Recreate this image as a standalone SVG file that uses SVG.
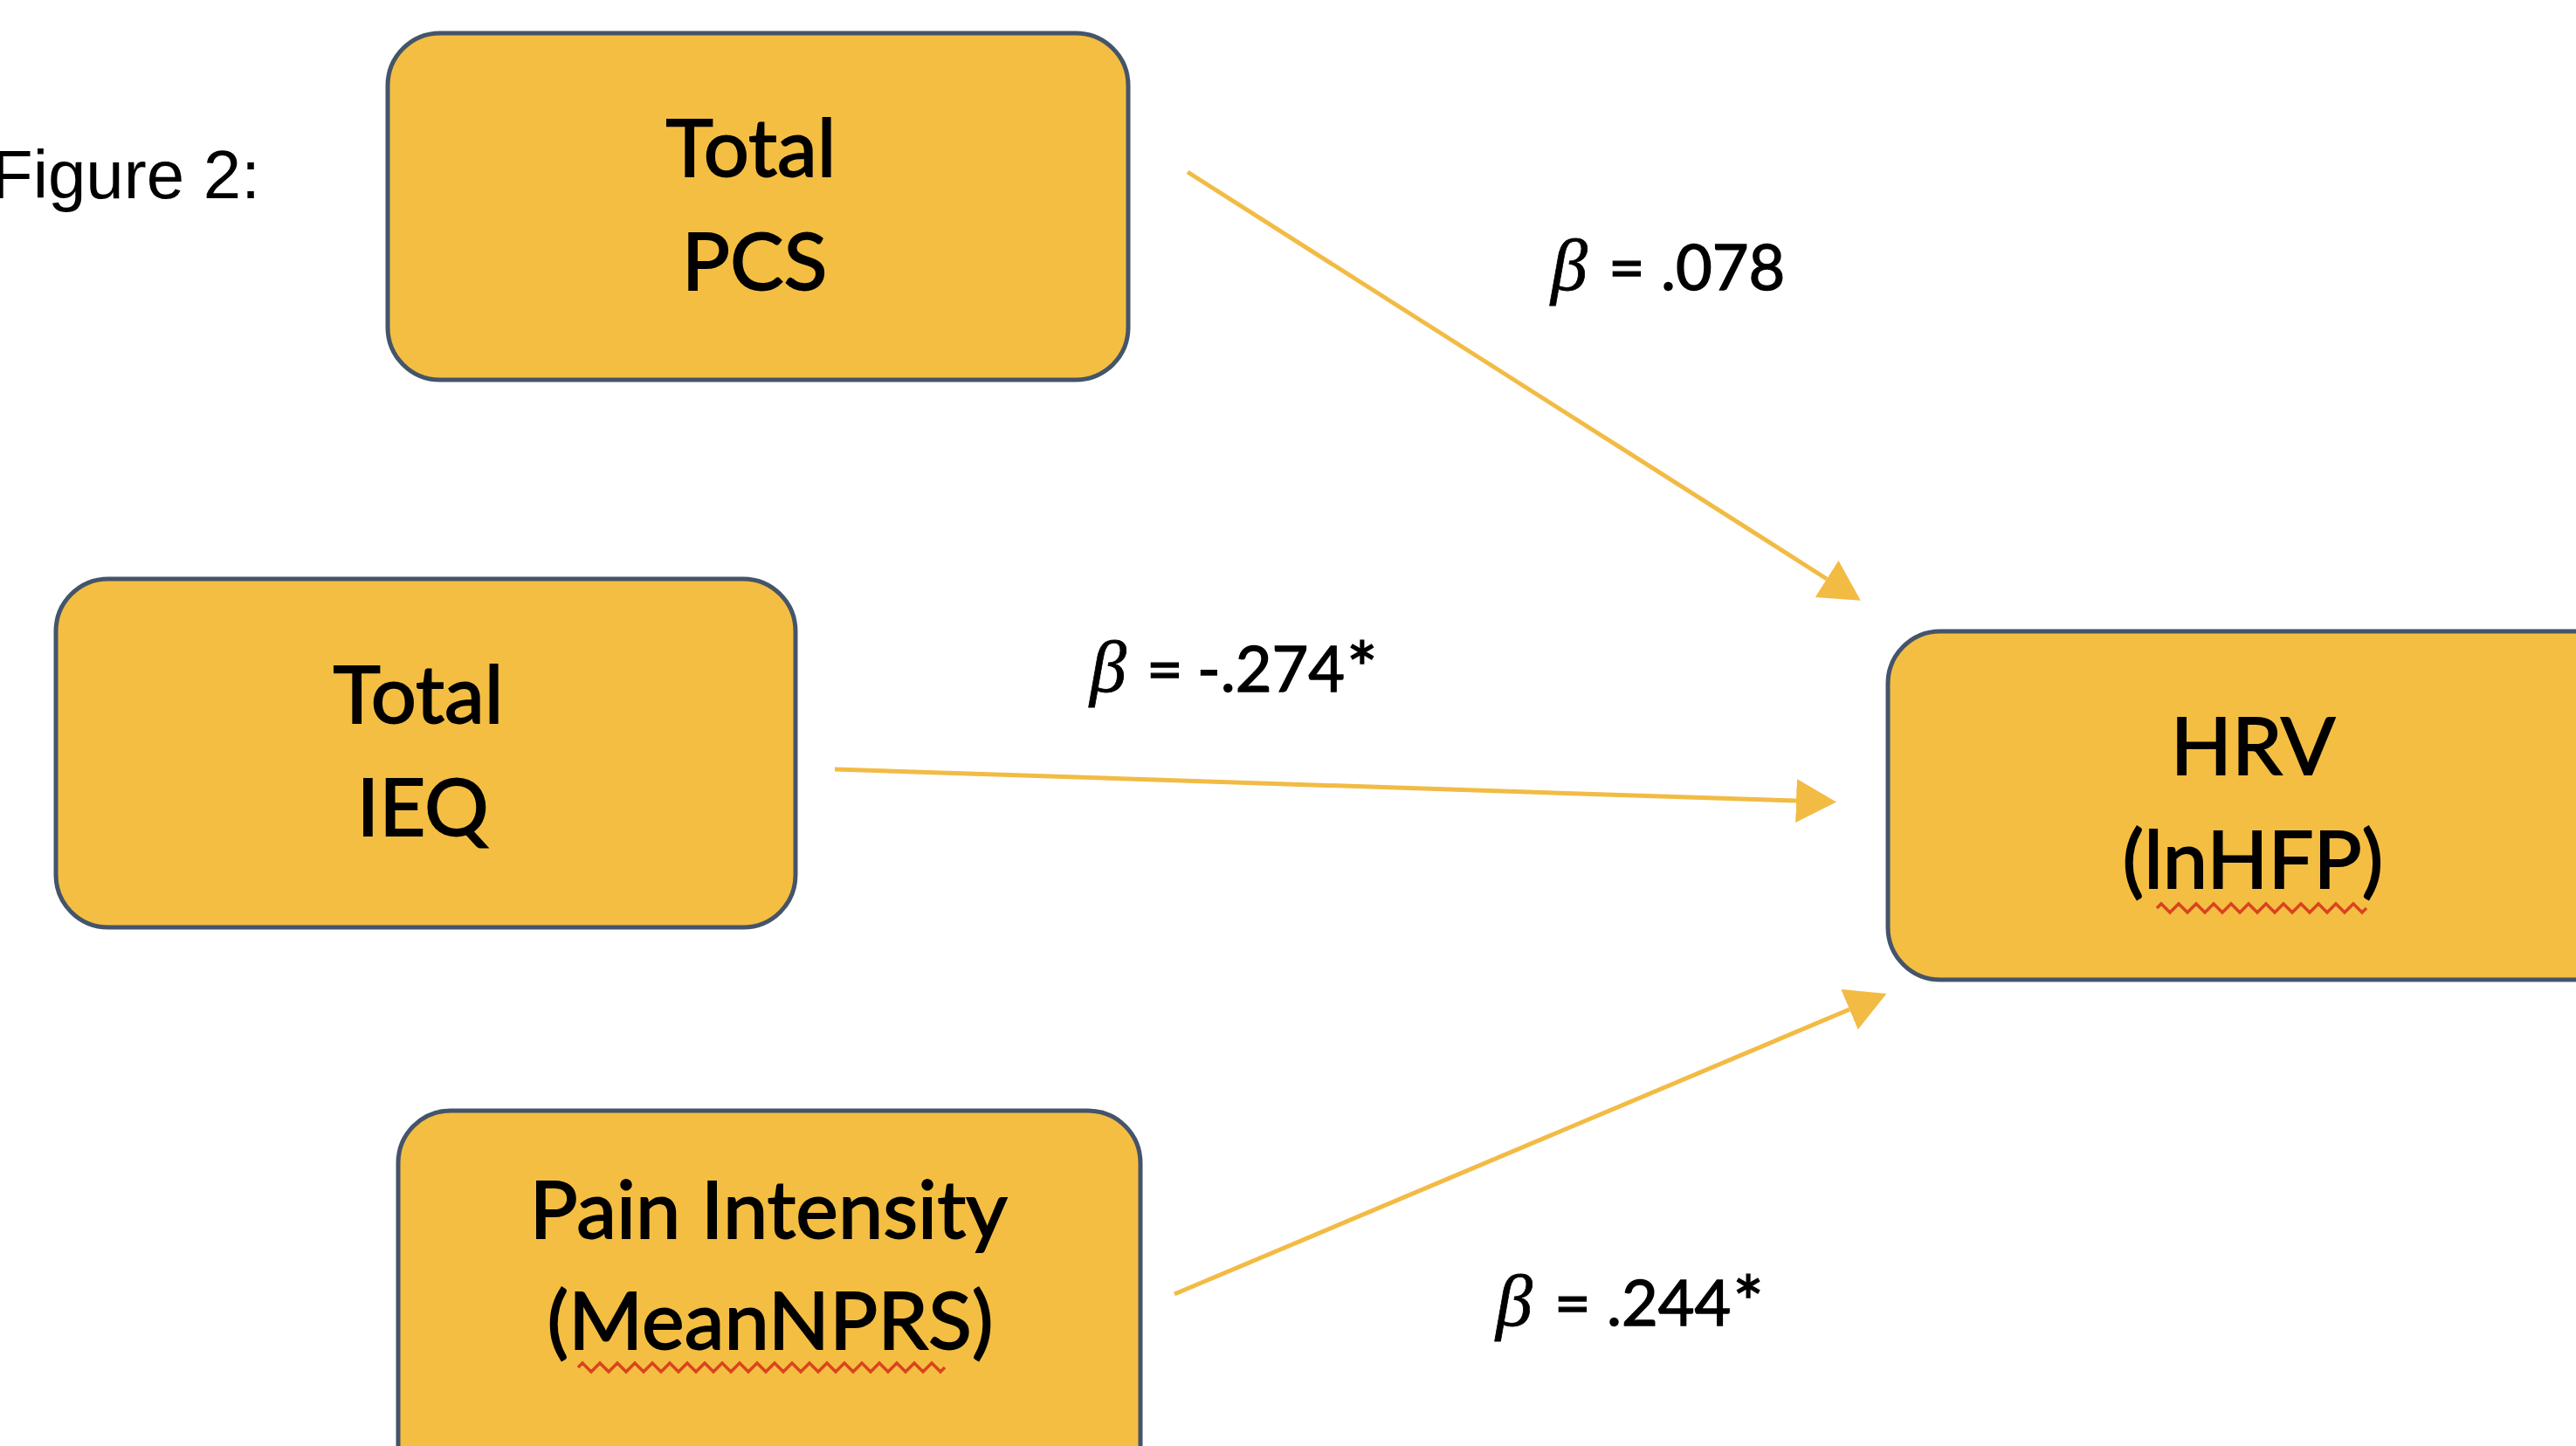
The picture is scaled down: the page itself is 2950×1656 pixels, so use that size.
<svg xmlns="http://www.w3.org/2000/svg" width="2950" height="1656" viewBox="0 0 2950 1656">
  <style>
    .box { fill: #F4BE42; stroke: #44546A; stroke-width: 5; }
    .lbl { font-family: Lato, "Open Sans", sans-serif; font-size: 92px; fill: #000; stroke: #000; stroke-width: 1.8px; text-anchor: middle; }
    .beta { font-family: Lato, "Open Sans", sans-serif; font-size: 72px; fill: #000; stroke: #000; stroke-width: 1.4px; }
    .greek { font-family: "Liberation Serif", serif; font-style: italic; font-size: 84px; stroke-width: 0.8px; }
    .ast { font-size: 84px; }
    .conn { stroke: #F2BB44; stroke-width: 5; fill: none; marker-end: url(#arrow); }
    .squig { stroke: #D9441F; stroke-width: 3.5; fill: none; }
  </style>
  <defs>
    <marker id="arrow" viewBox="0 0 46 50" refX="0" refY="25" markerWidth="46" markerHeight="50" markerUnits="userSpaceOnUse" orient="auto">
      <path d="M0,0 L46,25 L0,50 Z" fill="#F2BB44"/>
    </marker>
  </defs>
  <rect width="2950" height="1656" fill="#FFFFFF"/>

  <text x="-10" y="227" font-family="Liberation Sans, Arial, sans-serif" font-size="78" fill="#000">Figure 2:</text>

  <g id="connectors">
    <line class="conn" x1="1360" y1="197" x2="2092" y2="663"/>
    <line class="conn" x1="956" y1="881" x2="2057" y2="917"/>
    <line class="conn" x1="1345" y1="1482" x2="2118" y2="1156"/>
    <text class="beta" y="332"><tspan class="greek" x="1776">β</tspan><tspan x="1842">=</tspan><tspan x="1902">.078</tspan></text>
    <text class="beta" y="792"><tspan class="greek" x="1248">β</tspan><tspan x="1313">=</tspan><tspan x="1371">-.274</tspan><tspan class="ast" dx="2" dy="4">*</tspan></text>
    <text class="beta" y="1518"><tspan class="greek" x="1713">β</tspan><tspan x="1780">=</tspan><tspan x="1840">.244</tspan><tspan class="ast" dx="2" dy="4">*</tspan></text>
  </g>

  <g id="node-pcs">
    <rect class="box" x="444" y="38" width="848" height="397" rx="60" ry="60"/>
    <text class="lbl" x="860" y="202">Total</text>
    <text class="lbl" x="864" y="332">PCS</text>
  </g>

  <g id="node-ieq">
    <rect class="box" x="64" y="663" width="847" height="399" rx="60" ry="60"/>
    <text class="lbl" x="479" y="828">Total</text>
    <text class="lbl" x="484" y="957">IEQ</text>
  </g>

  <g id="node-hrv">
    <rect class="box" x="2162" y="723" width="900" height="399" rx="60" ry="60"/>
    <text class="lbl" x="2580" y="887">HRV</text>
    <text class="lbl" x="2580" y="1017">(lnHFP)</text>
    <path class="squig" d="M2470,1040 l5,-5 l5,5 l5,5 l5,-5 l5,-5 l5,5 l5,5 l5,-5 l5,-5 l5,5 l5,5 l5,-5 l5,-5 l5,5 l5,5 l5,-5 l5,-5 l5,5 l5,5 l5,-5 l5,-5 l5,5 l5,5 l5,-5 l5,-5 l5,5 l5,5 l5,-5 l5,-5 l5,5 l5,5 l5,-5 l5,-5 l5,5 l5,5 l5,-5 l5,-5 l5,5 l5,5 l5,-5 l5,-5 l5,5 l5,5 l5,-5 l5,-5 l5,5 l5,5 l5,-5"/>
  </g>

  <g id="node-pain">
    <rect class="box" x="456" y="1272" width="850" height="460" rx="60" ry="60"/>
    <text class="lbl" x="880" y="1418">Pain Intensity</text>
    <text class="lbl" x="882" y="1545">(MeanNPRS)</text>
    <path class="squig" d="M662,1566 l5,-5 l5,5 l5,5 l5,-5 l5,-5 l5,5 l5,5 l5,-5 l5,-5 l5,5 l5,5 l5,-5 l5,-5 l5,5 l5,5 l5,-5 l5,-5 l5,5 l5,5 l5,-5 l5,-5 l5,5 l5,5 l5,-5 l5,-5 l5,5 l5,5 l5,-5 l5,-5 l5,5 l5,5 l5,-5 l5,-5 l5,5 l5,5 l5,-5 l5,-5 l5,5 l5,5 l5,-5 l5,-5 l5,5 l5,5 l5,-5 l5,-5 l5,5 l5,5 l5,-5 l5,-5 l5,5 l5,5 l5,-5 l5,-5 l5,5 l5,5 l5,-5 l5,-5 l5,5 l5,5 l5,-5 l5,-5 l5,5 l5,5 l5,-5 l5,-5 l5,5 l5,5 l5,-5 l5,-5 l5,5 l5,5 l5,-5 l5,-5 l5,5 l5,5 l5,-5 l5,-5 l5,5 l5,5 l5,-5 l5,-5 l5,5 l5,5 l5,-5"/>
  </g>
</svg>
